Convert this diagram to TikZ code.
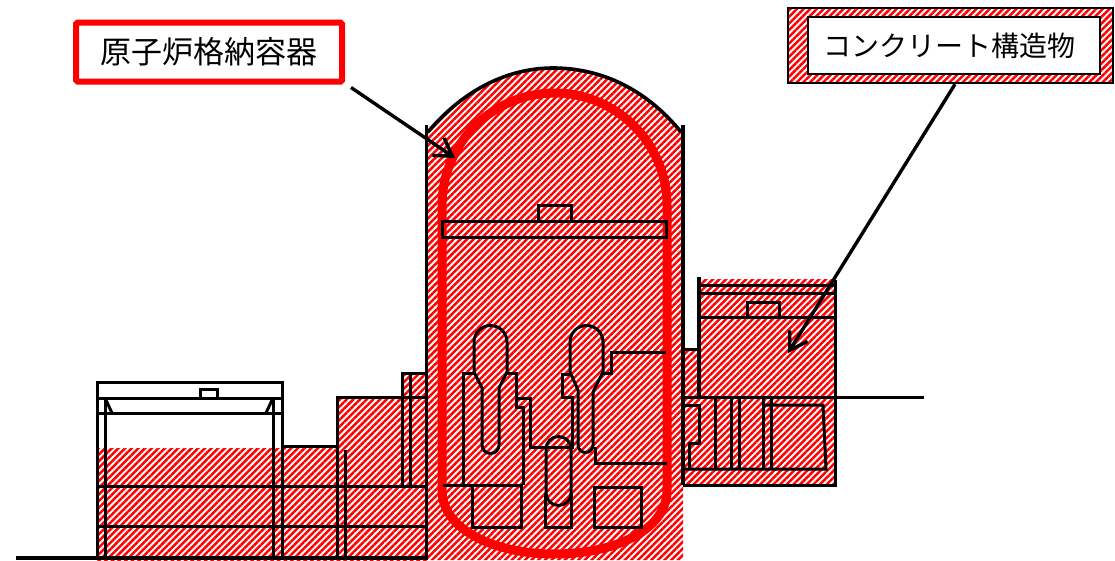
\documentclass[tikz,border=0pt]{standalone}
\usepackage{fontspec}
\setmainfont{Noto Sans CJK JP}
\usetikzlibrary{patterns.meta, arrows.meta}
\tikzset{
  hatched/.style = {pattern = {Lines[angle = 45, distance = 4.7pt, line width = 2.5pt]}, pattern color = red},
  wall/.style = {line width = 3.6pt, black, line join = miter},
  thinwall/.style = {line width = 3pt, black},
  pointer/.style = {line width = 3.4pt, -{Straight Barb[length = 17pt, width = 21pt, line width = 3.4pt]}},
  label/.style = {fill = white, draw, inner sep = 0pt, anchor = center}
}
\begin{document}
\begin{tikzpicture}[x = 1pt, y = -1pt]
    \useasboundingbox (0,0) rectangle (1115,560);
    \fill [hatched] (427,560) -- (427,132) .. controls (465,88) and (510,68) .. (553,68)
      .. controls (600,68) and (645,88) .. (683,132) -- (683,560) -- cycle;
    \fill [hatched] (97,448) rectangle (282,560);
    \fill [hatched] (282,446) rectangle (337,560);
    \fill [hatched] (337,397) rectangle (427,560);
    \fill [hatched] (402,373) rectangle (427,397);
    \fill [hatched] (683,349) rectangle (699,485);
    \fill [hatched] (699,279) rectangle (835,485);
    \draw [line width = 9pt, red] (442,490) -- (442,205.5) arc (180:360:112.5) -- (667,490)
      .. controls (667,530) and (615,554) .. (554.5,554) .. controls (495,554) and (442,530) .. (442,490) -- cycle;
    \draw [wall] (428,132) .. controls (465,88) and (510,68) .. (553,68)
      .. controls (600,68) and (645,88) .. (681,132);
    \draw [wall] (426.5,125) -- (426.5,560);
    \draw [wall] (683,125) -- (683,485);
    \draw [thinwall] (442,221) rectangle (666,237);
    \draw [thinwall] (538,221) -- (538,205) -- (571,205) -- (571,221);
    \draw [thinwall] (474,372) -- (474,342) arc (180:360:16.5) -- (507,372) -- (499,388) -- (499,445)
      arc (0:180:8.5) -- (482,388) -- cycle;
    \draw [thinwall] (474,373) -- (463.5,373) -- (463.5,485);
    \draw [thinwall] (507,373) -- (516,373) -- (516,407) -- (523,407) -- (523,485);
    \draw [thinwall] (516,398) -- (530,398) -- (530,447) -- (572,447) -- (572,397) -- (562,397) -- (562,374) -- (570,374);
    \draw [thinwall] (570,372) -- (570,342) arc (180:360:16.5) -- (603,372) -- (593,392) -- (593,445)
      arc (0:180:7.5) -- (578,390) -- cycle;
    \draw [thinwall] (603,373) -- (611,373) -- (611,352) -- (666,352);
    \draw [thinwall] (595,447) -- (595,463) -- (667,463);
    \draw [thinwall] (443,485) -- (523,485);
    \draw [thinwall] (472,485) -- (472,527) -- (521,527) -- (521,485);
    \draw [thinwall] (546,449) arc (180:360:12.5) -- (571,493) arc (0:180:12.5) -- cycle;
    \draw [thinwall] (545.5,493) -- (545.5,527) -- (571.5,527) -- (571.5,493);
    \draw [thinwall] (594,487) rectangle (641,527);
    \draw [thinwall] (97,560) -- (97,382) -- (282,382) -- (282,560);
    \draw [thinwall] (97,398) -- (282,398);
    \draw [thinwall] (97,413) -- (282,413);
    \draw [thinwall] (105,398) -- (105,560);
    \draw [thinwall] (273,398) -- (273,560);
    \draw [thinwall] (105,398) -- (112,413);
    \draw [thinwall] (273,398) -- (266,413);
    \draw [thinwall] (200,398) -- (200,389) -- (217,389) -- (217,398);
    \draw [thinwall] (282,446) -- (337,446);
    \draw [thinwall] (337,560) -- (337,397) -- (427,397);
    \draw [thinwall] (345,450) -- (345,560);
    \draw [thinwall] (97,486) -- (427,486);
    \draw [thinwall] (97,526) -- (427,526);
    \draw [thinwall] (402,486) -- (402,373) -- (427,373);
    \draw [thinwall] (410,373) -- (410,486);
    \draw [wall] (16,558) -- (427,558);
    \draw [wall] (699,277) -- (699,397);
    \draw [thinwall] (683,349) -- (699,349);
    \draw [thinwall] (699,285) -- (835,285);
    \draw [thinwall] (699,293) -- (835,293);
    \draw [thinwall] (699,317) -- (835,317);
    \draw [thinwall] (747,317) -- (747,302) -- (779,302) -- (779,317);
    \draw [thinwall] (835,280) -- (835,485) -- (683,485);
    \draw [thinwall] (683,397) -- (924,397);
    \draw [thinwall] (683,469) -- (826,469) -- (823,405) -- (763,405);
    \draw [thinwall] (683,405) -- (699,405) -- (699,443) -- (689,443) -- (689,469);
    \foreach \x in {715,731,739,763,771}
      \draw [thinwall] (\x,397) -- (\x,469);
    \node [label, font = \fontsize{31}{31}\selectfont, line width = 6pt, draw = red, rounded corners = 1.5pt, minimum width = 266pt, minimum height = 59pt] (vessellabel) at (209,52) {原子炉格納容器};
    \fill [hatched] (788,8) rectangle (1113,83);
    \draw [line width = 2.4pt] (788,8) rectangle (1113,83);
    \node [label, font = \fontsize{28}{28}\selectfont, line width = 2.4pt, minimum width = 292pt, minimum height = 57pt] (concretelabel) at (954,45.5) {コンクリート構造物\hspace{9pt}\mbox{}};
    \coordinate (vesseltip) at (455,158);
    \coordinate (concretetip) at (788,353);
    \draw [pointer] ([shift = {(6,3)}]vessellabel.south east) -- (vesseltip);
    \draw [pointer] ([xshift = 1pt, yshift = -9pt]concretelabel.south) -- (concretetip);
  \end{tikzpicture}
\end{document}
